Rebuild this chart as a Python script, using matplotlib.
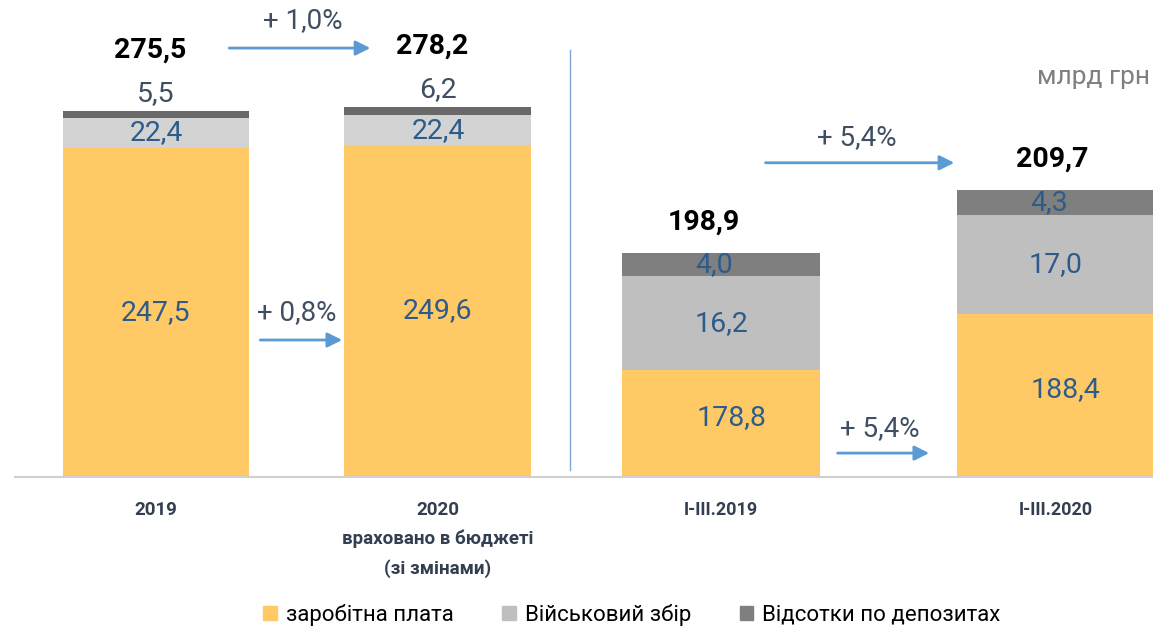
import matplotlib.pyplot as plt
from matplotlib.patches import Patch

plt.rcParams['font.family'] = ['Roboto', 'DejaVu Sans']

# Дані (млрд грн)
cat_rik = ["2019", "2020\nвраховано в бюджеті\n(зі змінами)"]
zarplata_rik = [247.5, 249.6]
vijsk_rik = [22.4, 22.4]
depoz_rik = [5.5, 6.2]
razom_rik = [275.5, 278.2]

cat_kv = ["I-III.2019", "I-III.2020"]
zarplata_kv = [178.8, 188.4]
vijsk_kv = [16.2, 17.0]
depoz_kv = [4.0, 4.3]
razom_kv = [198.9, 209.7]

rist_rik = ["+ 1,0%", "+ 0,8%"]
rist_kv = ["+ 5,4%", "+ 5,4%"]

legenda = ["заробітна плата", "Військовий збір", "Відсотки по депозитах"]

c_zp = "#FFC966"
c_vz = "#D3D3D3"
c_dp = "#696969"
c_vz2 = "#BFBFBF"
c_dp2 = "#7F7F7F"
c_txt = "#2E5C8A"
c_dark = "#404E63"
c_arrow = "#5B9BD5"

W, H = 1153, 627
fig = plt.figure(figsize=(W / 100, H / 100), dpi=100)

base = 477
top = 20
h_ax = base - top


def px_axes(x0, x1):
    return fig.add_axes([x0 / W, (H - base) / H, (x1 - x0) / W, h_ax / H])


def fmt(v):
    return f"{v:.1f}".replace(".", ",")


arrow_kw = dict(arrowstyle="-|>", color=c_arrow, lw=2, mutation_scale=22)

# ---- ліва частина ----
ax1 = px_axes(15, 555)
ax1.set_ylim(0, h_ax / 1.33)
ax1.set_xlim(-0.5, 1.415)
x = [0, 1]
w1 = 0.663
ax1.bar(x, zarplata_rik, w1, color=c_zp)
ax1.bar(x, vijsk_rik, w1, bottom=zarplata_rik, color=c_vz)
b2 = [a + b for a, b in zip(zarplata_rik, vijsk_rik)]
ax1.bar(x, depoz_rik, w1, bottom=b2, color=c_dp)

for i in x:
    ax1.text(i, zarplata_rik[i] / 2, fmt(zarplata_rik[i]),
             ha="center", va="center", fontsize=20.5, color=c_txt)
    ax1.text(i, zarplata_rik[i] + vijsk_rik[i] / 2, fmt(vijsk_rik[i]),
             ha="center", va="center", fontsize=20.5, color=c_txt)
    t = b2[i] + depoz_rik[i]
    ax1.annotate(fmt(depoz_rik[i]), (i, t), xytext=(0, 17),
                 textcoords="offset pixels", ha="center", va="center",
                 fontsize=20.5, color=c_dark)
    ax1.annotate(fmt(razom_rik[i]), (i - 0.02, t), xytext=(0, 61),
                 textcoords="offset pixels", ha="center", va="center",
                 fontsize=20.5, fontweight="bold", color="black")

# стрілки приросту
ax1.annotate("", xy=(0.77, 322.5), xytext=(0.25, 322.5), arrowprops=arrow_kw)
ax1.text(0.52, 343, rist_rik[0], ha="center", va="center", fontsize=20, color=c_dark)
ax1.annotate("", xy=(0.67, 103), xytext=(0.36, 103), arrowprops=arrow_kw)
ax1.text(0.5, 124, rist_rik[1], ha="center", va="center", fontsize=20, color=c_dark)

ax1.set_xticks(x)
ax1.set_xticklabels(cat_rik, fontsize=13.5, fontweight="bold", color="#333F50",
                    linespacing=1.75)
ax1.tick_params(axis="x", length=0, pad=17)
ax1.set_yticks([])
for s in ["top", "right", "left"]:
    ax1.spines[s].set_visible(False)
ax1.spines["bottom"].set_color("#D0D0D0")
ax1.spines["bottom"].set_linewidth(1.5)
ax1.patch.set_alpha(0)

# ---- права частина ----
ax2 = px_axes(555, 1153)
y0 = 160.5
ax2.set_ylim(y0, y0 + h_ax / 5.83)
ax2.set_xlim(-0.4955, 1.29)
w2 = 0.59
ax2.bar(x, [z - y0 for z in zarplata_kv], w2, bottom=y0, color=c_zp)
ax2.bar(x, vijsk_kv, w2, bottom=zarplata_kv, color=c_vz2)
b3 = [a + b for a, b in zip(zarplata_kv, vijsk_kv)]
ax2.bar(x, depoz_kv, w2, bottom=b3, color=c_dp2)

for i in x:
    ax2.text(i + 0.03, (zarplata_kv[i] + y0) / 2 + 1, fmt(zarplata_kv[i]),
             ha="center", va="center", fontsize=20.5, color=c_txt)
    ax2.text(i, zarplata_kv[i] + vijsk_kv[i] / 2, fmt(vijsk_kv[i]),
             ha="center", va="center", fontsize=20.5, color=c_txt)
    ax2.text(i - 0.02, b3[i] + depoz_kv[i] / 2, fmt(depoz_kv[i]),
             ha="center", va="center", fontsize=20.5, color=c_txt)
    ax2.annotate(fmt(razom_kv[i]), (i + 0.04 * i - 0.05, razom_kv[i]),
                 xytext=(0, 31), textcoords="offset pixels", ha="center", va="center",
                 fontsize=20.5, fontweight="bold", color="black")

ax2.annotate("", xy=(0.705, 214.4), xytext=(0.125, 214.4), arrowprops=arrow_kw)
ax2.text(0.405, 218.7, rist_kv[0], ha="center", va="center", fontsize=20, color=c_dark)
ax2.annotate("", xy=(0.63, 164.6), xytext=(0.34, 164.6), arrowprops=arrow_kw)
ax2.text(0.475, 168.8, rist_kv[1], ha="center", va="center", fontsize=20, color=c_dark)

ax2.text(0.995, 0.875, "млрд грн", transform=ax2.transAxes, ha="right", va="center",
         fontsize=19, color="#7F7F7F")

ax2.set_xticks(x)
ax2.set_xticklabels(cat_kv, fontsize=13, fontweight="bold", color="#333F50")
ax2.tick_params(axis="x", length=0, pad=17)
ax2.set_yticks([])
for s in ["top", "right", "left"]:
    ax2.spines[s].set_visible(False)
ax2.spines["bottom"].set_color("#D0D0D0")
ax2.spines["bottom"].set_linewidth(1.5)
ax2.patch.set_alpha(0)

# розділова лінія
fig.add_artist(plt.Line2D([570 / W, 570 / W], [(H - 470) / H, (H - 50) / H],
                          color="#7FA7D4", lw=1))

handles = [Patch(color=c_zp), Patch(color="#BFBFBF"), Patch(color=c_dp2)]
fig.legend(handles, legenda, loc="center", bbox_to_anchor=(0.548, 1 - 615 / H), ncol=3,
           frameon=False, fontsize=16, handlelength=0.6, handleheight=0.6,
           columnspacing=2.2, handletextpad=0.4)

fig.savefig("out.png", dpi=100)
